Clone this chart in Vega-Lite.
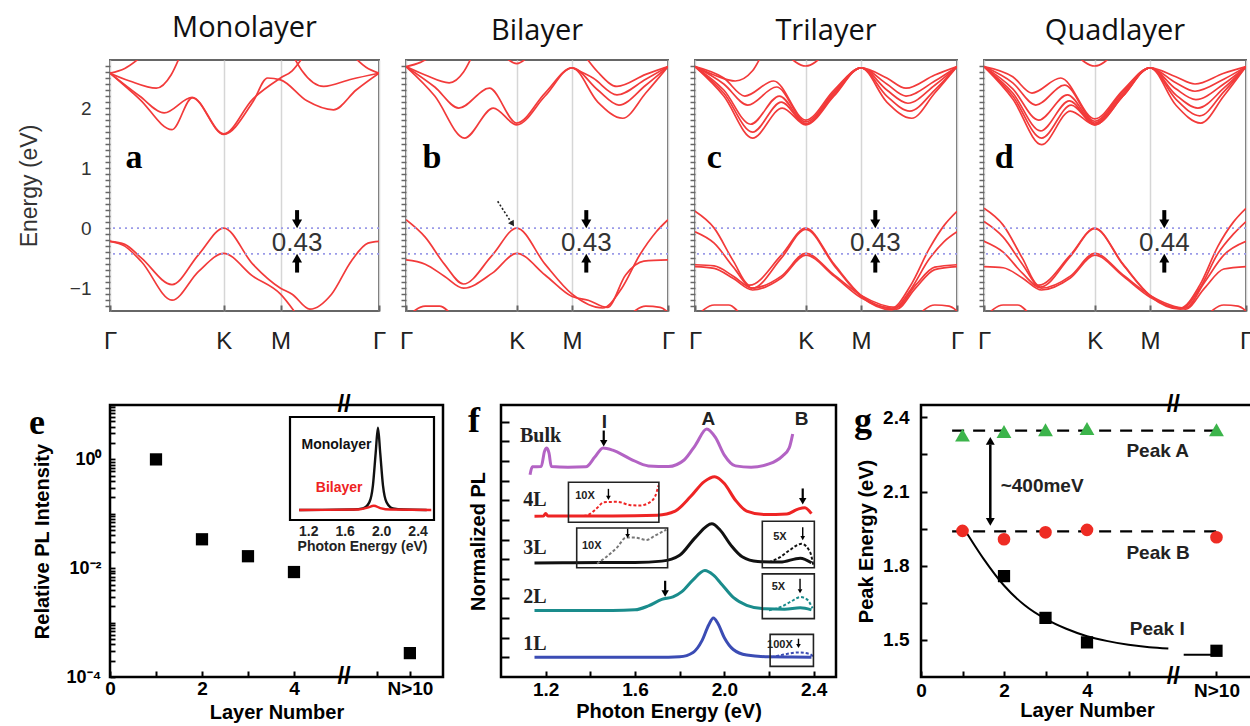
{
"$schema": "https://vega.github.io/schema/vega-lite/v6.json",
"padding": {"left": 17, "top": 13, "right": 0, "bottom": 0},
"background": "white",
"config": {
  "font": "Liberation Sans",
  "title": {"font": "Open Sans", "fontSize": 29, "fontWeight": "normal", "color": "#111", "offset": 14},
  "axis": {"domain": false, "grid": false, "labelOverlap": false, "tickCount": 100, "labelFont": "Liberation Sans", "titleFont": "Liberation Sans"}
},
"datasets": {
"bands": [
{"p":"a","b":"v1","x":0,"e":-0.22},{"p":"a","b":"v1","x":0.15,"e":-0.27},{"p":"a","b":"v1","x":0.32,"e":-0.5},{"p":"a","b":"v1","x":0.63,"e":-0.94},{"p":"a","b":"v1","x":0.9,"e":-0.44},{"p":"a","b":"v1","x":1.155,"e":0},{"p":"a","b":"v1","x":1.45,"e":-0.6},{"p":"a","b":"v1","x":1.732,"e":-1.0},{"p":"a","b":"v1","x":1.85,"e":-1.1},{"p":"a","b":"v1","x":2.03,"e":-1.35},{"p":"a","b":"v1","x":2.25,"e":-1.1},{"p":"a","b":"v1","x":2.45,"e":-0.55},{"p":"a","b":"v1","x":2.62,"e":-0.25},{"p":"a","b":"v1","x":2.732,"e":-0.22},
{"p":"a","b":"v2","x":0,"e":-0.22},{"p":"a","b":"v2","x":0.15,"e":-0.3},{"p":"a","b":"v2","x":0.32,"e":-0.56},{"p":"a","b":"v2","x":0.63,"e":-1.2},{"p":"a","b":"v2","x":0.9,"e":-0.72},{"p":"a","b":"v2","x":1.155,"e":-0.42},{"p":"a","b":"v2","x":1.45,"e":-0.8},{"p":"a","b":"v2","x":1.732,"e":-1.1},{"p":"a","b":"v2","x":1.9,"e":-1.45},
{"p":"a","b":"c1","x":0,"e":2.58},{"p":"a","b":"c1","x":0.3,"e":2.15},{"p":"a","b":"c1","x":0.63,"e":1.64},{"p":"a","b":"c1","x":0.835,"e":2.17},{"p":"a","b":"c1","x":1.155,"e":1.56},{"p":"a","b":"c1","x":1.45,"e":2.1},{"p":"a","b":"c1","x":1.6,"e":2.5},{"p":"a","b":"c1","x":1.732,"e":2.47},{"p":"a","b":"c1","x":2.0,"e":2.12},{"p":"a","b":"c1","x":2.27,"e":1.97},{"p":"a","b":"c1","x":2.5,"e":2.3},{"p":"a","b":"c1","x":2.732,"e":2.58},
{"p":"a","b":"c2","x":0,"e":2.58},{"p":"a","b":"c2","x":0.3,"e":2.2},{"p":"a","b":"c2","x":0.55,"e":1.92},{"p":"a","b":"c2","x":0.835,"e":2.18},{"p":"a","b":"c2","x":1.155,"e":1.57},{"p":"a","b":"c2","x":1.45,"e":2.15},{"p":"a","b":"c2","x":1.732,"e":2.5},{"p":"a","b":"c2","x":1.85,"e":2.62},{"p":"a","b":"c2","x":1.98,"e":2.9},
{"p":"a","b":"c3","x":1.85,"e":2.9},{"p":"a","b":"c3","x":1.95,"e":2.62},{"p":"a","b":"c3","x":2.17,"e":2.36},{"p":"a","b":"c3","x":2.45,"e":2.48},{"p":"a","b":"c3","x":2.732,"e":2.58},
{"p":"a","b":"c4","x":0,"e":2.58},{"p":"a","b":"c4","x":0.2,"e":2.45},{"p":"a","b":"c4","x":0.47,"e":2.33},{"p":"a","b":"c4","x":0.62,"e":2.55},{"p":"a","b":"c4","x":0.72,"e":2.9},
{"p":"a","b":"c5","x":0,"e":2.58},{"p":"a","b":"c5","x":0.15,"e":2.66},{"p":"a","b":"c5","x":0.35,"e":2.9},
{"p":"a","b":"c6","x":2.45,"e":2.9},{"p":"a","b":"c6","x":2.6,"e":2.68},{"p":"a","b":"c6","x":2.732,"e":2.58},

{"p":"b","b":"v1","x":0,"e":0.14},{"p":"b","b":"v1","x":0.2,"e":-0.15},{"p":"b","b":"v1","x":0.4,"e":-0.6},{"p":"b","b":"v1","x":0.6,"e":-0.93},{"p":"b","b":"v1","x":0.9,"e":-0.45},{"p":"b","b":"v1","x":1.155,"e":0},{"p":"b","b":"v1","x":1.45,"e":-0.6},{"p":"b","b":"v1","x":1.732,"e":-1.1},{"p":"b","b":"v1","x":2.05,"e":-1.33},{"p":"b","b":"v1","x":2.25,"e":-1.0},{"p":"b","b":"v1","x":2.44,"e":-0.44},{"p":"b","b":"v1","x":2.61,"e":-0.06},{"p":"b","b":"v1","x":2.732,"e":0.14},
{"p":"b","b":"v2","x":0,"e":-0.53},{"p":"b","b":"v2","x":0.2,"e":-0.6},{"p":"b","b":"v2","x":0.4,"e":-0.8},{"p":"b","b":"v2","x":0.6,"e":-1.0},{"p":"b","b":"v2","x":0.9,"e":-0.75},{"p":"b","b":"v2","x":1.155,"e":-0.42},{"p":"b","b":"v2","x":1.45,"e":-0.78},{"p":"b","b":"v2","x":1.732,"e":-1.14},{"p":"b","b":"v2","x":1.9,"e":-1.2},{"p":"b","b":"v2","x":2.1,"e":-1.32},{"p":"b","b":"v2","x":2.29,"e":-0.78},{"p":"b","b":"v2","x":2.48,"e":-0.55},{"p":"b","b":"v2","x":2.732,"e":-0.53},
{"p":"b","b":"v3","x":0,"e":-1.5},{"p":"b","b":"v3","x":0.2,"e":-1.3},{"p":"b","b":"v3","x":0.35,"e":-1.3},{"p":"b","b":"v3","x":0.5,"e":-1.5},
{"p":"b","b":"v4","x":2.3,"e":-1.5},{"p":"b","b":"v4","x":2.5,"e":-1.3},{"p":"b","b":"v4","x":2.65,"e":-1.32},{"p":"b","b":"v4","x":2.732,"e":-1.4},
{"p":"b","b":"c1","x":0,"e":2.69},{"p":"b","b":"c1","x":0.3,"e":2.2},{"p":"b","b":"c1","x":0.61,"e":1.5},{"p":"b","b":"c1","x":0.91,"e":2.0},{"p":"b","b":"c1","x":1.155,"e":1.72},{"p":"b","b":"c1","x":1.45,"e":2.2},{"p":"b","b":"c1","x":1.732,"e":2.67},{"p":"b","b":"c1","x":2.0,"e":2.1},{"p":"b","b":"c1","x":2.26,"e":1.83},{"p":"b","b":"c1","x":2.5,"e":2.25},{"p":"b","b":"c1","x":2.732,"e":2.69},
{"p":"b","b":"c2","x":0,"e":2.69},{"p":"b","b":"c2","x":0.3,"e":2.35},{"p":"b","b":"c2","x":0.55,"e":2.0},{"p":"b","b":"c2","x":0.87,"e":2.33},{"p":"b","b":"c2","x":1.155,"e":1.75},{"p":"b","b":"c2","x":1.45,"e":2.25},{"p":"b","b":"c2","x":1.732,"e":2.67},{"p":"b","b":"c2","x":2.0,"e":2.3},{"p":"b","b":"c2","x":2.22,"e":2.05},{"p":"b","b":"c2","x":2.5,"e":2.38},{"p":"b","b":"c2","x":2.732,"e":2.69},
{"p":"b","b":"c3","x":1.732,"e":2.67},{"p":"b","b":"c3","x":1.95,"e":2.5},{"p":"b","b":"c3","x":2.2,"e":2.22},{"p":"b","b":"c3","x":2.5,"e":2.48},{"p":"b","b":"c3","x":2.732,"e":2.69},
{"p":"b","b":"c4","x":1.85,"e":2.9},{"p":"b","b":"c4","x":2.0,"e":2.6},{"p":"b","b":"c4","x":2.2,"e":2.36},{"p":"b","b":"c4","x":2.5,"e":2.56},{"p":"b","b":"c4","x":2.732,"e":2.69},
{"p":"b","b":"c5","x":0,"e":2.69},{"p":"b","b":"c5","x":0.2,"e":2.55},{"p":"b","b":"c5","x":0.45,"e":2.42},{"p":"b","b":"c5","x":0.6,"e":2.6},{"p":"b","b":"c5","x":0.7,"e":2.9},
{"p":"b","b":"c6","x":0,"e":2.69},{"p":"b","b":"c6","x":0.15,"e":2.76},{"p":"b","b":"c6","x":0.3,"e":2.9},
{"p":"b","b":"c7","x":1.0,"e":2.9},{"p":"b","b":"c7","x":1.155,"e":2.74},{"p":"b","b":"c7","x":1.3,"e":2.9},

{"p":"c","b":"v1","x":0,"e":0.28},{"p":"c","b":"v1","x":0.2,"e":0.0},{"p":"c","b":"v1","x":0.4,"e":-0.55},{"p":"c","b":"v1","x":0.57,"e":-0.95},{"p":"c","b":"v1","x":0.9,"e":-0.45},{"p":"c","b":"v1","x":1.155,"e":0},{"p":"c","b":"v1","x":1.45,"e":-0.6},{"p":"c","b":"v1","x":1.732,"e":-1.12},{"p":"c","b":"v1","x":2.05,"e":-1.33},{"p":"c","b":"v1","x":2.25,"e":-0.95},{"p":"c","b":"v1","x":2.44,"e":-0.35},{"p":"c","b":"v1","x":2.6,"e":0.05},{"p":"c","b":"v1","x":2.732,"e":0.28},
{"p":"c","b":"v2","x":0,"e":-0.06},{"p":"c","b":"v2","x":0.2,"e":-0.25},{"p":"c","b":"v2","x":0.4,"e":-0.65},{"p":"c","b":"v2","x":0.6,"e":-1.0},{"p":"c","b":"v2","x":0.9,"e":-0.5},{"p":"c","b":"v2","x":1.155,"e":-0.02},{"p":"c","b":"v2","x":1.45,"e":-0.62},{"p":"c","b":"v2","x":1.732,"e":-1.14},{"p":"c","b":"v2","x":2.05,"e":-1.36},{"p":"c","b":"v2","x":2.25,"e":-1.02},{"p":"c","b":"v2","x":2.44,"e":-0.52},{"p":"c","b":"v2","x":2.6,"e":-0.22},{"p":"c","b":"v2","x":2.732,"e":-0.06},
{"p":"c","b":"v3","x":0,"e":-0.61},{"p":"c","b":"v3","x":0.2,"e":-0.63},{"p":"c","b":"v3","x":0.4,"e":-0.8},{"p":"c","b":"v3","x":0.6,"e":-1.0},{"p":"c","b":"v3","x":0.9,"e":-0.8},{"p":"c","b":"v3","x":1.155,"e":-0.42},{"p":"c","b":"v3","x":1.45,"e":-0.78},{"p":"c","b":"v3","x":1.732,"e":-1.12},{"p":"c","b":"v3","x":2.1,"e":-1.32},{"p":"c","b":"v3","x":2.3,"e":-0.95},{"p":"c","b":"v3","x":2.5,"e":-0.65},{"p":"c","b":"v3","x":2.732,"e":-0.61},
{"p":"c","b":"v4","x":0,"e":-0.64},{"p":"c","b":"v4","x":0.2,"e":-0.67},{"p":"c","b":"v4","x":0.4,"e":-0.84},{"p":"c","b":"v4","x":0.6,"e":-1.03},{"p":"c","b":"v4","x":0.9,"e":-0.83},{"p":"c","b":"v4","x":1.155,"e":-0.45},{"p":"c","b":"v4","x":1.45,"e":-0.8},{"p":"c","b":"v4","x":1.732,"e":-1.16},{"p":"c","b":"v4","x":2.1,"e":-1.35},{"p":"c","b":"v4","x":2.3,"e":-1.0},{"p":"c","b":"v4","x":2.5,"e":-0.69},{"p":"c","b":"v4","x":2.732,"e":-0.64},
{"p":"c","b":"v5","x":0,"e":-1.5},{"p":"c","b":"v5","x":0.2,"e":-1.28},{"p":"c","b":"v5","x":0.35,"e":-1.28},{"p":"c","b":"v5","x":0.5,"e":-1.5},
{"p":"c","b":"v6","x":2.3,"e":-1.5},{"p":"c","b":"v6","x":2.5,"e":-1.28},{"p":"c","b":"v6","x":2.65,"e":-1.3},{"p":"c","b":"v6","x":2.732,"e":-1.38},
{"p":"c","b":"c1","x":0,"e":2.69},{"p":"c","b":"c1","x":0.3,"e":2.2},{"p":"c","b":"c1","x":0.6,"e":1.5},{"p":"c","b":"c1","x":0.91,"e":2.0},{"p":"c","b":"c1","x":1.155,"e":1.72},{"p":"c","b":"c1","x":1.45,"e":2.2},{"p":"c","b":"c1","x":1.732,"e":2.67},{"p":"c","b":"c1","x":2.0,"e":2.1},{"p":"c","b":"c1","x":2.26,"e":1.83},{"p":"c","b":"c1","x":2.5,"e":2.25},{"p":"c","b":"c1","x":2.732,"e":2.69},
{"p":"c","b":"c2","x":0,"e":2.69},{"p":"c","b":"c2","x":0.3,"e":2.25},{"p":"c","b":"c2","x":0.6,"e":1.6},{"p":"c","b":"c2","x":0.9,"e":2.1},{"p":"c","b":"c2","x":1.155,"e":1.73},{"p":"c","b":"c2","x":1.45,"e":2.22},{"p":"c","b":"c2","x":1.732,"e":2.67},{"p":"c","b":"c2","x":2.0,"e":2.2},{"p":"c","b":"c2","x":2.24,"e":1.95},{"p":"c","b":"c2","x":2.5,"e":2.3},{"p":"c","b":"c2","x":2.732,"e":2.69},
{"p":"c","b":"c3","x":0,"e":2.69},{"p":"c","b":"c3","x":0.3,"e":2.3},{"p":"c","b":"c3","x":0.58,"e":1.73},{"p":"c","b":"c3","x":0.88,"e":2.2},{"p":"c","b":"c3","x":1.155,"e":1.74},{"p":"c","b":"c3","x":1.45,"e":2.25},{"p":"c","b":"c3","x":1.732,"e":2.67},{"p":"c","b":"c3","x":2.0,"e":2.3},{"p":"c","b":"c3","x":2.22,"e":2.08},{"p":"c","b":"c3","x":2.5,"e":2.38},{"p":"c","b":"c3","x":2.732,"e":2.69},
{"p":"c","b":"c4","x":0,"e":2.69},{"p":"c","b":"c4","x":0.3,"e":2.4},{"p":"c","b":"c4","x":0.55,"e":2.05},{"p":"c","b":"c4","x":0.85,"e":2.35},{"p":"c","b":"c4","x":1.155,"e":1.77},{"p":"c","b":"c4","x":1.45,"e":2.27},{"p":"c","b":"c4","x":1.732,"e":2.67},{"p":"c","b":"c4","x":2.0,"e":2.4},{"p":"c","b":"c4","x":2.2,"e":2.2},{"p":"c","b":"c4","x":2.5,"e":2.45},{"p":"c","b":"c4","x":2.732,"e":2.69},
{"p":"c","b":"c5","x":0,"e":2.69},{"p":"c","b":"c5","x":0.3,"e":2.5},{"p":"c","b":"c5","x":0.52,"e":2.2},{"p":"c","b":"c5","x":0.82,"e":2.45},{"p":"c","b":"c5","x":1.155,"e":1.8},{"p":"c","b":"c5","x":1.45,"e":2.3},{"p":"c","b":"c5","x":1.732,"e":2.67},{"p":"c","b":"c5","x":2.0,"e":2.5},{"p":"c","b":"c5","x":2.2,"e":2.33},{"p":"c","b":"c5","x":2.5,"e":2.55},{"p":"c","b":"c5","x":2.732,"e":2.69},
{"p":"c","b":"c6","x":0,"e":2.69},{"p":"c","b":"c6","x":0.2,"e":2.55},{"p":"c","b":"c6","x":0.42,"e":2.45},{"p":"c","b":"c6","x":0.6,"e":2.62},{"p":"c","b":"c6","x":0.7,"e":2.9},
{"p":"c","b":"c7","x":0.95,"e":2.9},{"p":"c","b":"c7","x":1.155,"e":2.7},{"p":"c","b":"c7","x":1.35,"e":2.9},

{"p":"d","b":"v1","x":0,"e":0.33},{"p":"d","b":"v1","x":0.2,"e":0.05},{"p":"d","b":"v1","x":0.4,"e":-0.5},{"p":"d","b":"v1","x":0.57,"e":-0.95},{"p":"d","b":"v1","x":0.9,"e":-0.45},{"p":"d","b":"v1","x":1.155,"e":0},{"p":"d","b":"v1","x":1.45,"e":-0.6},{"p":"d","b":"v1","x":1.732,"e":-1.12},{"p":"d","b":"v1","x":2.05,"e":-1.33},{"p":"d","b":"v1","x":2.25,"e":-0.95},{"p":"d","b":"v1","x":2.44,"e":-0.3},{"p":"d","b":"v1","x":2.6,"e":0.1},{"p":"d","b":"v1","x":2.732,"e":0.33},
{"p":"d","b":"v2","x":0,"e":0.11},{"p":"d","b":"v2","x":0.2,"e":-0.15},{"p":"d","b":"v2","x":0.4,"e":-0.6},{"p":"d","b":"v2","x":0.59,"e":-0.98},{"p":"d","b":"v2","x":0.9,"e":-0.47},{"p":"d","b":"v2","x":1.155,"e":-0.01},{"p":"d","b":"v2","x":1.45,"e":-0.61},{"p":"d","b":"v2","x":1.732,"e":-1.13},{"p":"d","b":"v2","x":2.05,"e":-1.35},{"p":"d","b":"v2","x":2.25,"e":-1.0},{"p":"d","b":"v2","x":2.44,"e":-0.42},{"p":"d","b":"v2","x":2.6,"e":-0.1},{"p":"d","b":"v2","x":2.732,"e":0.11},
{"p":"d","b":"v3","x":0,"e":-0.22},{"p":"d","b":"v3","x":0.2,"e":-0.4},{"p":"d","b":"v3","x":0.4,"e":-0.75},{"p":"d","b":"v3","x":0.6,"e":-1.0},{"p":"d","b":"v3","x":0.9,"e":-0.8},{"p":"d","b":"v3","x":1.155,"e":-0.42},{"p":"d","b":"v3","x":1.45,"e":-0.78},{"p":"d","b":"v3","x":1.732,"e":-1.12},{"p":"d","b":"v3","x":2.1,"e":-1.33},{"p":"d","b":"v3","x":2.3,"e":-0.9},{"p":"d","b":"v3","x":2.5,"e":-0.45},{"p":"d","b":"v3","x":2.732,"e":-0.22},
{"p":"d","b":"v4","x":0,"e":-0.64},{"p":"d","b":"v4","x":0.2,"e":-0.66},{"p":"d","b":"v4","x":0.4,"e":-0.83},{"p":"d","b":"v4","x":0.6,"e":-1.03},{"p":"d","b":"v4","x":0.9,"e":-0.83},{"p":"d","b":"v4","x":1.155,"e":-0.45},{"p":"d","b":"v4","x":1.45,"e":-0.8},{"p":"d","b":"v4","x":1.732,"e":-1.15},{"p":"d","b":"v4","x":2.1,"e":-1.35},{"p":"d","b":"v4","x":2.3,"e":-1.0},{"p":"d","b":"v4","x":2.5,"e":-0.68},{"p":"d","b":"v4","x":2.732,"e":-0.64},
{"p":"d","b":"v5","x":0,"e":-1.5},{"p":"d","b":"v5","x":0.2,"e":-1.28},{"p":"d","b":"v5","x":0.35,"e":-1.28},{"p":"d","b":"v5","x":0.5,"e":-1.5},
{"p":"d","b":"v6","x":2.3,"e":-1.5},{"p":"d","b":"v6","x":2.5,"e":-1.28},{"p":"d","b":"v6","x":2.65,"e":-1.3},{"p":"d","b":"v6","x":2.732,"e":-1.38},
{"p":"d","b":"c1","x":0,"e":2.69},{"p":"d","b":"c1","x":0.3,"e":2.15},{"p":"d","b":"c1","x":0.6,"e":1.39},{"p":"d","b":"c1","x":0.9,"e":1.95},{"p":"d","b":"c1","x":1.155,"e":1.72},{"p":"d","b":"c1","x":1.45,"e":2.2},{"p":"d","b":"c1","x":1.732,"e":2.67},{"p":"d","b":"c1","x":2.0,"e":2.05},{"p":"d","b":"c1","x":2.26,"e":1.75},{"p":"d","b":"c1","x":2.5,"e":2.2},{"p":"d","b":"c1","x":2.732,"e":2.69},
{"p":"d","b":"c2","x":0,"e":2.69},{"p":"d","b":"c2","x":0.3,"e":2.2},{"p":"d","b":"c2","x":0.6,"e":1.5},{"p":"d","b":"c2","x":0.91,"e":2.05},{"p":"d","b":"c2","x":1.155,"e":1.72},{"p":"d","b":"c2","x":1.45,"e":2.2},{"p":"d","b":"c2","x":1.732,"e":2.67},{"p":"d","b":"c2","x":2.0,"e":2.15},{"p":"d","b":"c2","x":2.25,"e":1.87},{"p":"d","b":"c2","x":2.5,"e":2.27},{"p":"d","b":"c2","x":2.732,"e":2.69},
{"p":"d","b":"c3","x":0,"e":2.69},{"p":"d","b":"c3","x":0.3,"e":2.25},{"p":"d","b":"c3","x":0.59,"e":1.62},{"p":"d","b":"c3","x":0.89,"e":2.12},{"p":"d","b":"c3","x":1.155,"e":1.73},{"p":"d","b":"c3","x":1.45,"e":2.22},{"p":"d","b":"c3","x":1.732,"e":2.67},{"p":"d","b":"c3","x":2.0,"e":2.22},{"p":"d","b":"c3","x":2.23,"e":2.0},{"p":"d","b":"c3","x":2.5,"e":2.33},{"p":"d","b":"c3","x":2.732,"e":2.69},
{"p":"d","b":"c4","x":0,"e":2.69},{"p":"d","b":"c4","x":0.3,"e":2.32},{"p":"d","b":"c4","x":0.57,"e":1.8},{"p":"d","b":"c4","x":0.87,"e":2.22},{"p":"d","b":"c4","x":1.155,"e":1.75},{"p":"d","b":"c4","x":1.45,"e":2.25},{"p":"d","b":"c4","x":1.732,"e":2.67},{"p":"d","b":"c4","x":2.0,"e":2.32},{"p":"d","b":"c4","x":2.21,"e":2.14},{"p":"d","b":"c4","x":2.5,"e":2.4},{"p":"d","b":"c4","x":2.732,"e":2.69},
{"p":"d","b":"c5","x":0,"e":2.69},{"p":"d","b":"c5","x":0.3,"e":2.42},{"p":"d","b":"c5","x":0.54,"e":2.05},{"p":"d","b":"c5","x":0.84,"e":2.38},{"p":"d","b":"c5","x":1.155,"e":1.78},{"p":"d","b":"c5","x":1.45,"e":2.28},{"p":"d","b":"c5","x":1.732,"e":2.67},{"p":"d","b":"c5","x":2.0,"e":2.42},{"p":"d","b":"c5","x":2.2,"e":2.28},{"p":"d","b":"c5","x":2.5,"e":2.48},{"p":"d","b":"c5","x":2.732,"e":2.69},
{"p":"d","b":"c6","x":0,"e":2.69},{"p":"d","b":"c6","x":0.3,"e":2.52},{"p":"d","b":"c6","x":0.5,"e":2.25},{"p":"d","b":"c6","x":0.8,"e":2.5},{"p":"d","b":"c6","x":1.155,"e":1.82},{"p":"d","b":"c6","x":1.45,"e":2.3},{"p":"d","b":"c6","x":1.732,"e":2.67},{"p":"d","b":"c6","x":2.0,"e":2.52},{"p":"d","b":"c6","x":2.2,"e":2.4},{"p":"d","b":"c6","x":2.5,"e":2.58},{"p":"d","b":"c6","x":2.732,"e":2.69},
{"p":"d","b":"c7","x":0.95,"e":2.9},{"p":"d","b":"c7","x":1.155,"e":2.7},{"p":"d","b":"c7","x":1.35,"e":2.9}
]
},
"spacing": 37,
"bounds": "full",
"resolve": {"scale": {"color": "independent", "shape": "independent", "size": "independent", "strokeWidth": "independent"}},
"vconcat": [
{
"hconcat": [
{
 "width": 269, "height": 251, "title": "Monolayer",
 "view": {"stroke": "#666", "strokeWidth": 2},
 "layer": [
  {"data": {"name": "bands"}, "transform": [{"filter": "datum.p === 'a'"}],
   "mark": {"type": "line", "color": "#f23a3a", "strokeWidth": 1.7, "interpolate": "monotone", "clip": true},
   "encoding": {
    "x": {"field": "x", "type": "quantitative", "scale": {"domain": [0, 2.732], "nice": false, "zero": false},
          "axis": {"values": [0, 1.155, 1.732, 2.732], "labelExpr": "datum.value < 0.5 ? 'Γ' : datum.value < 1.5 ? 'K' : datum.value < 2 ? 'M' : 'Γ'", "labelFlush": false, "labelFontSize": 24, "labelColor": "#222", "tickSize": -6, "tickWidth": 2, "tickColor": "#666", "grid": true, "gridColor": "#d6d6d6", "gridWidth": 1.5, "labelPadding": 24, "title": null}},
    "y": {"field": "e", "type": "quantitative", "scale": {"domain": [-1.38, 2.8], "nice": false, "zero": false},
          "axis": {"values": [-1.3, -1.2, -1.1, -1, -0.9, -0.8, -0.7, -0.6, -0.5, -0.4, -0.3, -0.2, -0.1, 0, 0.1, 0.2, 0.3, 0.4, 0.5, 0.6, 0.7, 0.8, 0.9, 1, 1.1, 1.2, 1.3, 1.4, 1.5, 1.6, 1.7, 1.8, 1.9, 2, 2.1, 2.2, 2.3, 2.4, 2.5, 2.6, 2.7], "tickCount": 100, "labelExpr": "abs(datum.value - round(datum.value)) < 0.01 ? format(round(datum.value), 'd') : ''", "labelFontSize": 19, "labelColor": "#333", "tickColor": "#666", "tickSize": 5, "tickWidth": 1.5, "labelPadding": 14, "title": "Energy (eV)", "titleFontSize": 23, "titleFontWeight": "normal", "titleColor": "#333", "titlePadding": 28}},
    "detail": {"field": "b", "type": "nominal"}}},
  {"data": {"values": [{"e": 0}, {"e": -0.43}]}, "mark": {"type": "rule", "color": "#9a9ae8", "strokeDash": [2, 4], "strokeWidth": 1.8}, "encoding": {"y": {"field": "e", "type": "quantitative"}}},
  {"data": {"values": [{"x": 1.9, "y": 0.3, "y2": 0.1}, {"x": 1.9, "y": -0.74, "y2": -0.54}]}, "mark": {"type": "rule", "color": "black", "strokeWidth": 4}, "encoding": {"x": {"field": "x", "type": "quantitative"}, "y": {"field": "y", "type": "quantitative"}, "y2": {"field": "y2"}}},
  {"data": {"values": [{"x": 1.9, "y": 0.07}]}, "mark": {"type": "point", "shape": "triangle-down", "filled": true, "color": "black", "size": 100, "opacity": 1}, "encoding": {"x": {"field": "x", "type": "quantitative"}, "y": {"field": "y", "type": "quantitative"}}},
  {"data": {"values": [{"x": 1.9, "y": -0.5}]}, "mark": {"type": "point", "shape": "triangle-up", "filled": true, "color": "black", "size": 100, "opacity": 1}, "encoding": {"x": {"field": "x", "type": "quantitative"}, "y": {"field": "y", "type": "quantitative"}}},
  {"data": {"values": [{"x": 1.9, "y": -0.24, "t": "0.43"}]}, "mark": {"type": "text", "fontSize": 26, "color": "#333", "font": "Liberation Sans"}, "encoding": {"x": {"field": "x", "type": "quantitative"}, "y": {"field": "y", "type": "quantitative"}, "text": {"field": "t"}}},
  {"data": {"values": [{"x": 0.244, "y": 1.0, "t": "a"}]}, "mark": {"type": "text", "fontSize": 34, "font": "Liberation Serif", "fontWeight": "bold", "baseline": "alphabetic"}, "encoding": {"x": {"field": "x", "type": "quantitative"}, "y": {"field": "y", "type": "quantitative"}, "text": {"field": "t"}}}
 ]
},
{
 "width": 262, "height": 251, "title": "Bilayer",
 "view": {"stroke": "#666", "strokeWidth": 2},
 "layer": [
  {"data": {"name": "bands"}, "transform": [{"filter": "datum.p === 'b'"}],
   "mark": {"type": "line", "color": "#f23a3a", "strokeWidth": 1.7, "interpolate": "monotone", "clip": true},
   "encoding": {
    "x": {"field": "x", "type": "quantitative", "scale": {"domain": [0, 2.732], "nice": false, "zero": false},
          "axis": {"values": [0, 1.155, 1.732, 2.732], "labelExpr": "datum.value < 0.5 ? 'Γ' : datum.value < 1.5 ? 'K' : datum.value < 2 ? 'M' : 'Γ'", "labelFlush": false, "labelFontSize": 24, "labelColor": "#222", "tickSize": -6, "tickWidth": 2, "tickColor": "#666", "grid": true, "gridColor": "#d6d6d6", "gridWidth": 1.5, "labelPadding": 24, "title": null}},
    "y": {"field": "e", "type": "quantitative", "scale": {"domain": [-1.38, 2.8], "nice": false, "zero": false},
          "axis": {"values": [-1.3, -1.2, -1.1, -1, -0.9, -0.8, -0.7, -0.6, -0.5, -0.4, -0.3, -0.2, -0.1, 0, 0.1, 0.2, 0.3, 0.4, 0.5, 0.6, 0.7, 0.8, 0.9, 1, 1.1, 1.2, 1.3, 1.4, 1.5, 1.6, 1.7, 1.8, 1.9, 2, 2.1, 2.2, 2.3, 2.4, 2.5, 2.6, 2.7], "tickCount": 100, "labels": false, "tickColor": "#666", "tickSize": 5, "tickWidth": 1.5, "title": null}},
    "detail": {"field": "b", "type": "nominal"}}},
  {"data": {"values": [{"e": 0}, {"e": -0.43}]}, "mark": {"type": "rule", "color": "#9a9ae8", "strokeDash": [2, 4], "strokeWidth": 1.8}, "encoding": {"y": {"field": "e", "type": "quantitative"}}},
  {"data": {"values": [{"x": 1.88, "y": 0.3, "y2": 0.1}, {"x": 1.88, "y": -0.74, "y2": -0.54}]}, "mark": {"type": "rule", "color": "black", "strokeWidth": 4}, "encoding": {"x": {"field": "x", "type": "quantitative"}, "y": {"field": "y", "type": "quantitative"}, "y2": {"field": "y2"}}},
  {"data": {"values": [{"x": 1.88, "y": 0.07}]}, "mark": {"type": "point", "shape": "triangle-down", "filled": true, "color": "black", "size": 100, "opacity": 1}, "encoding": {"x": {"field": "x", "type": "quantitative"}, "y": {"field": "y", "type": "quantitative"}}},
  {"data": {"values": [{"x": 1.88, "y": -0.5}]}, "mark": {"type": "point", "shape": "triangle-up", "filled": true, "color": "black", "size": 100, "opacity": 1}, "encoding": {"x": {"field": "x", "type": "quantitative"}, "y": {"field": "y", "type": "quantitative"}}},
  {"data": {"values": [{"x": 0.956, "y": 0.447, "x2": 1.1, "y2": 0.09}]}, "mark": {"type": "rule", "color": "#222", "strokeDash": [2, 2], "strokeWidth": 1.6}, "encoding": {"x": {"field": "x", "type": "quantitative"}, "y": {"field": "y", "type": "quantitative"}, "x2": {"field": "x2"}, "y2": {"field": "y2"}}},
  {"data": {"values": [{"x": 1.11, "y": 0.07}]}, "mark": {"type": "point", "shape": "triangle-down", "angle": 327, "filled": true, "color": "#222", "size": 45, "opacity": 1}, "encoding": {"x": {"field": "x", "type": "quantitative"}, "y": {"field": "y", "type": "quantitative"}}},
  {"data": {"values": [{"x": 1.88, "y": -0.24, "t": "0.43"}]}, "mark": {"type": "text", "fontSize": 26, "color": "#333", "font": "Liberation Sans"}, "encoding": {"x": {"field": "x", "type": "quantitative"}, "y": {"field": "y", "type": "quantitative"}, "text": {"field": "t"}}},
  {"data": {"values": [{"x": 0.27, "y": 1.0, "t": "b"}]}, "mark": {"type": "text", "fontSize": 34, "font": "Liberation Serif", "fontWeight": "bold", "baseline": "alphabetic"}, "encoding": {"x": {"field": "x", "type": "quantitative"}, "y": {"field": "y", "type": "quantitative"}, "text": {"field": "t"}}}
 ]
},
{
 "width": 262, "height": 251, "title": "Trilayer",
 "view": {"stroke": "#666", "strokeWidth": 2},
 "layer": [
  {"data": {"name": "bands"}, "transform": [{"filter": "datum.p === 'c'"}],
   "mark": {"type": "line", "color": "#f23a3a", "strokeWidth": 1.7, "interpolate": "monotone", "clip": true},
   "encoding": {
    "x": {"field": "x", "type": "quantitative", "scale": {"domain": [0, 2.732], "nice": false, "zero": false},
          "axis": {"values": [0, 1.155, 1.732, 2.732], "labelExpr": "datum.value < 0.5 ? 'Γ' : datum.value < 1.5 ? 'K' : datum.value < 2 ? 'M' : 'Γ'", "labelFlush": false, "labelFontSize": 24, "labelColor": "#222", "tickSize": -6, "tickWidth": 2, "tickColor": "#666", "grid": true, "gridColor": "#d6d6d6", "gridWidth": 1.5, "labelPadding": 24, "title": null}},
    "y": {"field": "e", "type": "quantitative", "scale": {"domain": [-1.38, 2.8], "nice": false, "zero": false},
          "axis": {"values": [-1.3, -1.2, -1.1, -1, -0.9, -0.8, -0.7, -0.6, -0.5, -0.4, -0.3, -0.2, -0.1, 0, 0.1, 0.2, 0.3, 0.4, 0.5, 0.6, 0.7, 0.8, 0.9, 1, 1.1, 1.2, 1.3, 1.4, 1.5, 1.6, 1.7, 1.8, 1.9, 2, 2.1, 2.2, 2.3, 2.4, 2.5, 2.6, 2.7], "tickCount": 100, "labels": false, "tickColor": "#666", "tickSize": 5, "tickWidth": 1.5, "title": null}},
    "detail": {"field": "b", "type": "nominal"}}},
  {"data": {"values": [{"e": 0}, {"e": -0.43}]}, "mark": {"type": "rule", "color": "#9a9ae8", "strokeDash": [2, 4], "strokeWidth": 1.8}, "encoding": {"y": {"field": "e", "type": "quantitative"}}},
  {"data": {"values": [{"x": 1.88, "y": 0.3, "y2": 0.1}, {"x": 1.88, "y": -0.74, "y2": -0.54}]}, "mark": {"type": "rule", "color": "black", "strokeWidth": 4}, "encoding": {"x": {"field": "x", "type": "quantitative"}, "y": {"field": "y", "type": "quantitative"}, "y2": {"field": "y2"}}},
  {"data": {"values": [{"x": 1.88, "y": 0.07}]}, "mark": {"type": "point", "shape": "triangle-down", "filled": true, "color": "black", "size": 100, "opacity": 1}, "encoding": {"x": {"field": "x", "type": "quantitative"}, "y": {"field": "y", "type": "quantitative"}}},
  {"data": {"values": [{"x": 1.88, "y": -0.5}]}, "mark": {"type": "point", "shape": "triangle-up", "filled": true, "color": "black", "size": 100, "opacity": 1}, "encoding": {"x": {"field": "x", "type": "quantitative"}, "y": {"field": "y", "type": "quantitative"}}},
  {"data": {"values": [{"x": 1.88, "y": -0.24, "t": "0.43"}]}, "mark": {"type": "text", "fontSize": 26, "color": "#333", "font": "Liberation Sans"}, "encoding": {"x": {"field": "x", "type": "quantitative"}, "y": {"field": "y", "type": "quantitative"}, "text": {"field": "t"}}},
  {"data": {"values": [{"x": 0.2, "y": 1.0, "t": "c"}]}, "mark": {"type": "text", "fontSize": 34, "font": "Liberation Serif", "fontWeight": "bold", "baseline": "alphabetic"}, "encoding": {"x": {"field": "x", "type": "quantitative"}, "y": {"field": "y", "type": "quantitative"}, "text": {"field": "t"}}}
 ]
},
{
 "width": 262, "height": 251, "title": "Quadlayer",
 "view": {"stroke": "#666", "strokeWidth": 2},
 "layer": [
  {"data": {"name": "bands"}, "transform": [{"filter": "datum.p === 'd'"}],
   "mark": {"type": "line", "color": "#f23a3a", "strokeWidth": 1.7, "interpolate": "monotone", "clip": true},
   "encoding": {
    "x": {"field": "x", "type": "quantitative", "scale": {"domain": [0, 2.732], "nice": false, "zero": false},
          "axis": {"values": [0, 1.155, 1.732, 2.732], "labelExpr": "datum.value < 0.5 ? 'Γ' : datum.value < 1.5 ? 'K' : datum.value < 2 ? 'M' : 'Γ'", "labelFlush": false, "labelFontSize": 24, "labelColor": "#222", "tickSize": -6, "tickWidth": 2, "tickColor": "#666", "grid": true, "gridColor": "#d6d6d6", "gridWidth": 1.5, "labelPadding": 24, "title": null}},
    "y": {"field": "e", "type": "quantitative", "scale": {"domain": [-1.38, 2.8], "nice": false, "zero": false},
          "axis": {"values": [-1.3, -1.2, -1.1, -1, -0.9, -0.8, -0.7, -0.6, -0.5, -0.4, -0.3, -0.2, -0.1, 0, 0.1, 0.2, 0.3, 0.4, 0.5, 0.6, 0.7, 0.8, 0.9, 1, 1.1, 1.2, 1.3, 1.4, 1.5, 1.6, 1.7, 1.8, 1.9, 2, 2.1, 2.2, 2.3, 2.4, 2.5, 2.6, 2.7], "tickCount": 100, "labels": false, "tickColor": "#666", "tickSize": 5, "tickWidth": 1.5, "title": null}},
    "detail": {"field": "b", "type": "nominal"}}},
  {"data": {"values": [{"e": 0}, {"e": -0.43}]}, "mark": {"type": "rule", "color": "#9a9ae8", "strokeDash": [2, 4], "strokeWidth": 1.8}, "encoding": {"y": {"field": "e", "type": "quantitative"}}},
  {"data": {"values": [{"x": 1.88, "y": 0.3, "y2": 0.1}, {"x": 1.88, "y": -0.74, "y2": -0.54}]}, "mark": {"type": "rule", "color": "black", "strokeWidth": 4}, "encoding": {"x": {"field": "x", "type": "quantitative"}, "y": {"field": "y", "type": "quantitative"}, "y2": {"field": "y2"}}},
  {"data": {"values": [{"x": 1.88, "y": 0.07}]}, "mark": {"type": "point", "shape": "triangle-down", "filled": true, "color": "black", "size": 100, "opacity": 1}, "encoding": {"x": {"field": "x", "type": "quantitative"}, "y": {"field": "y", "type": "quantitative"}}},
  {"data": {"values": [{"x": 1.88, "y": -0.5}]}, "mark": {"type": "point", "shape": "triangle-up", "filled": true, "color": "black", "size": 100, "opacity": 1}, "encoding": {"x": {"field": "x", "type": "quantitative"}, "y": {"field": "y", "type": "quantitative"}}},
  {"data": {"values": [{"x": 1.88, "y": -0.24, "t": "0.44"}]}, "mark": {"type": "text", "fontSize": 26, "color": "#333", "font": "Liberation Sans"}, "encoding": {"x": {"field": "x", "type": "quantitative"}, "y": {"field": "y", "type": "quantitative"}, "text": {"field": "t"}}},
  {"data": {"values": [{"x": 0.21, "y": 1.0, "t": "d"}]}, "mark": {"type": "text", "fontSize": 34, "font": "Liberation Serif", "fontWeight": "bold", "baseline": "alphabetic"}, "encoding": {"x": {"field": "x", "type": "quantitative"}, "y": {"field": "y", "type": "quantitative"}, "text": {"field": "t"}}}
 ]
}
],
"spacing": 27,
"bounds": "flush",
"resolve": {"scale": {"color": "independent", "shape": "independent", "size": "independent", "strokeWidth": "independent"}}
},
{
"hconcat": [
{
 "width": 333, "height": 272,
 "view": {"stroke": "black", "strokeWidth": 2.5},
 "resolve": {"scale": {"x": "independent", "y": "independent"}},
 "layer": [
  {"layer": [
   {"data": {"values": [{"n": 1, "i": 1.0}, {"n": 2, "i": 0.034}, {"n": 3, "i": 0.0166}, {"n": 4, "i": 0.0085}, {"n": 6.52, "i": 0.000275}]},
    "mark": {"type": "point", "shape": "square", "filled": true, "color": "black", "size": 150, "opacity": 1},
    "encoding": {
     "x": {"field": "n", "type": "quantitative", "scale": {"domain": [0, 7.24], "nice": false, "zero": false},
           "axis": {"values": [0, 1, 2, 3, 4, 5.8, 6.52], "labelExpr": "datum.value == 0 ? '0' : datum.value == 2 ? '2' : datum.value == 4 ? '4' : datum.value > 6 ? 'N>10' : ''", "labelFlush": false, "labelFontSize": 19, "labelFontWeight": "bold", "labelColor": "black", "tickSize": -6, "tickWidth": 2, "tickColor": "black", "labelPadding": 8, "title": "Layer Number", "titleFontSize": 20, "titleFontWeight": "bold", "titleColor": "black", "titlePadding": 4}},
     "y": {"field": "i", "type": "quantitative", "scale": {"type": "log", "domain": [0.0001, 10], "nice": false},
           "axis": {"values": [0.0001, 0.0002, 0.0003, 0.0004, 0.0005, 0.0006, 0.0007, 0.0008, 0.0009, 0.001, 0.002, 0.003, 0.004, 0.005, 0.006, 0.007, 0.008, 0.009, 0.01, 0.02, 0.03, 0.04, 0.05, 0.06, 0.07, 0.08, 0.09, 0.1, 0.2, 0.3, 0.4, 0.5, 0.6, 0.7, 0.8, 0.9, 1, 2, 3, 4, 5, 6, 7, 8, 9, 10], "tickCount": 100, "labelExpr": "datum.value == 1 ? '10⁰' : datum.value == 0.01 ? '10⁻²' : datum.value == 0.0001 ? '10⁻⁴' : ''", "labelFontSize": 18, "labelFontWeight": "bold", "labelColor": "black", "tickSize": -5, "tickWidth": 1.8, "tickColor": "black", "labelPadding": 14, "title": "Relative PL Intensity", "titleFontSize": 20, "titleFontWeight": "bold", "titleColor": "black", "titlePadding": 14}}}},
   {"data": {"values": [{"n": 5.09, "i": 10}, {"n": 5.09, "i": 0.0001}]}, "mark": {"type": "text", "text": "//", "fontSize": 24, "fontWeight": "bold"}, "encoding": {"x": {"field": "n", "type": "quantitative"}, "y": {"field": "i", "type": "quantitative"}}},
   {"data": {"values": [{"n": -1.59, "i": 4.7, "t": "e"}]}, "mark": {"type": "text", "fontSize": 36, "fontWeight": "bold", "font": "Liberation Serif"}, "encoding": {"x": {"field": "n", "type": "quantitative"}, "y": {"field": "i", "type": "quantitative"}, "text": {"field": "t"}}}
  ]},
  {"layer": [
   {"data": {"values": [{}]}, "mark": {"type": "rect", "fill": "white", "stroke": "black", "strokeWidth": 2.2},
    "encoding": {
     "x": {"datum": 1.0, "type": "quantitative", "scale": {"domain": [1.0, 2.58], "range": [180, 324], "nice": false, "zero": false},
           "axis": {"orient": "bottom", "offset": -157, "values": [1.2, 1.4, 1.6, 1.8, 2.0, 2.2, 2.4], "labelExpr": "(round(datum.value*10) % 4 == 0) ? format(datum.value, '.1f') : ''", "labelFlush": false, "labelFontSize": 14, "labelFontWeight": "bold", "labelColor": "#222", "tickSize": -4, "tickWidth": 1.5, "tickColor": "black", "labelPadding": 8, "title": "Photon Energy (eV)", "titleFontSize": 14, "titleFontWeight": "bold", "titleColor": "#222", "titlePadding": 1}},
     "x2": {"datum": 2.58},
     "y": {"datum": -0.53, "type": "quantitative", "scale": {"domain": [-0.53, 4.9], "range": [115, 12], "nice": false, "zero": false},
           "axis": {"orient": "left", "offset": -180, "values": [0, 1, 2, 3, 4], "labels": false, "tickSize": -5, "tickWidth": 1.5, "tickColor": "black", "title": null}},
     "y2": {"datum": 4.9}}},
   {"data": {"values": [
     {"s": "Monolayer", "x": 1.1, "y": 0}, {"s": "Monolayer", "x": 1.7, "y": 0.02}, {"s": "Monolayer", "x": 1.8, "y": 0.08}, {"s": "Monolayer", "x": 1.87, "y": 0.4}, {"s": "Monolayer", "x": 1.91, "y": 1.3}, {"s": "Monolayer", "x": 1.94, "y": 3.0}, {"s": "Monolayer", "x": 1.965, "y": 4.33}, {"s": "Monolayer", "x": 1.99, "y": 3.0}, {"s": "Monolayer", "x": 2.02, "y": 1.3}, {"s": "Monolayer", "x": 2.06, "y": 0.4}, {"s": "Monolayer", "x": 2.13, "y": 0.08}, {"s": "Monolayer", "x": 2.25, "y": 0.02}, {"s": "Monolayer", "x": 2.5, "y": 0},
     {"s": "Bilayer", "x": 1.1, "y": 0}, {"s": "Bilayer", "x": 1.75, "y": 0.02}, {"s": "Bilayer", "x": 1.85, "y": 0.12}, {"s": "Bilayer", "x": 1.92, "y": 0.22}, {"s": "Bilayer", "x": 1.99, "y": 0.1}, {"s": "Bilayer", "x": 2.1, "y": 0.02}, {"s": "Bilayer", "x": 2.55, "y": 0}]},
    "mark": {"type": "line", "interpolate": "monotone", "strokeWidth": 2.4},
    "encoding": {"x": {"field": "x", "type": "quantitative"}, "y": {"field": "y", "type": "quantitative"},
     "color": {"field": "s", "type": "nominal", "scale": {"domain": ["Monolayer", "Bilayer"], "range": ["#111111", "#ee2222"]}, "legend": null}}},
   {"data": {"values": [{"x": 1.51, "y": 3.4, "s": "Monolayer"}, {"x": 1.54, "y": 1.17, "s": "Bilayer"}]},
    "mark": {"type": "text", "fontSize": 14, "fontWeight": "bold"},
    "encoding": {"x": {"field": "x", "type": "quantitative"}, "y": {"field": "y", "type": "quantitative"}, "text": {"field": "s"},
     "color": {"field": "s", "type": "nominal", "scale": {"domain": ["Monolayer", "Bilayer"], "range": ["#111111", "#ee2222"]}, "legend": null}}}
  ]}
 ]
},
{
"hconcat": [
{
 "width": 335, "height": 272,
 "view": {"stroke": "black", "strokeWidth": 2.5},
 "layer": [
  {"data": {"values": [
    {"c":"1L","x":1.15,"y":1.0},{"c":"1L","x":1.4,"y":1.0},{"c":"1L","x":1.7,"y":1.0},{"c":"1L","x":1.8,"y":1.03},{"c":"1L","x":1.86,"y":1.25},{"c":"1L","x":1.9,"y":1.85},{"c":"1L","x":1.93,"y":2.65},{"c":"1L","x":1.951,"y":3.0},{"c":"1L","x":1.97,"y":2.75},{"c":"1L","x":2.0,"y":2.0},{"c":"1L","x":2.04,"y":1.4},{"c":"1L","x":2.1,"y":1.12},{"c":"1L","x":2.2,"y":1.03},{"c":"1L","x":2.3,"y":1.02},{"c":"1L","x":2.39,"y":1.0},
    {"c":"2L","x":1.15,"y":3.39},{"c":"2L","x":1.5,"y":3.39},{"c":"2L","x":1.6,"y":3.42},{"c":"2L","x":1.66,"y":3.62},{"c":"2L","x":1.72,"y":3.95},{"c":"2L","x":1.77,"y":4.08},{"c":"2L","x":1.81,"y":4.35},{"c":"2L","x":1.86,"y":4.95},{"c":"2L","x":1.913,"y":5.42},{"c":"2L","x":1.95,"y":5.2},{"c":"2L","x":1.99,"y":4.7},{"c":"2L","x":2.04,"y":4.05},{"c":"2L","x":2.1,"y":3.65},{"c":"2L","x":2.18,"y":3.47},{"c":"2L","x":2.27,"y":3.45},{"c":"2L","x":2.34,"y":3.52},{"c":"2L","x":2.39,"y":3.42},
    {"c":"3L","x":1.15,"y":5.8},{"c":"3L","x":1.3,"y":5.82},{"c":"3L","x":1.6,"y":5.83},{"c":"3L","x":1.72,"y":5.9},{"c":"3L","x":1.8,"y":6.2},{"c":"3L","x":1.87,"y":7.1},{"c":"3L","x":1.944,"y":7.8},{"c":"3L","x":1.98,"y":7.5},{"c":"3L","x":2.03,"y":6.7},{"c":"3L","x":2.08,"y":6.12},{"c":"3L","x":2.15,"y":5.88},{"c":"3L","x":2.25,"y":5.85},{"c":"3L","x":2.34,"y":6.05},{"c":"3L","x":2.39,"y":5.82},
    {"c":"4L","x":1.15,"y":8.19},{"c":"4L","x":1.19,"y":8.2},{"c":"4L","x":1.2,"y":8.33},{"c":"4L","x":1.21,"y":8.2},{"c":"4L","x":1.5,"y":8.2},{"c":"4L","x":1.7,"y":8.24},{"c":"4L","x":1.78,"y":8.45},{"c":"4L","x":1.85,"y":9.2},{"c":"4L","x":1.91,"y":9.95},{"c":"4L","x":1.957,"y":10.2},{"c":"4L","x":2.0,"y":9.85},{"c":"4L","x":2.05,"y":9.0},{"c":"4L","x":2.1,"y":8.45},{"c":"4L","x":2.18,"y":8.27},{"c":"4L","x":2.28,"y":8.3},{"c":"4L","x":2.33,"y":8.55},{"c":"4L","x":2.36,"y":8.62},{"c":"4L","x":2.39,"y":8.32},
    {"c":"Bulk","x":1.13,"y":10.3},{"c":"Bulk","x":1.14,"y":10.7},{"c":"Bulk","x":1.18,"y":10.72},{"c":"Bulk","x":1.195,"y":11.5},{"c":"Bulk","x":1.205,"y":11.66},{"c":"Bulk","x":1.215,"y":11.4},{"c":"Bulk","x":1.225,"y":10.72},{"c":"Bulk","x":1.3,"y":10.68},{"c":"Bulk","x":1.38,"y":10.7},{"c":"Bulk","x":1.42,"y":11.2},{"c":"Bulk","x":1.457,"y":11.66},{"c":"Bulk","x":1.5,"y":11.55},{"c":"Bulk","x":1.58,"y":11.1},{"c":"Bulk","x":1.66,"y":10.75},{"c":"Bulk","x":1.75,"y":10.72},{"c":"Bulk","x":1.82,"y":11.05},{"c":"Bulk","x":1.87,"y":11.8},{"c":"Bulk","x":1.921,"y":12.63},{"c":"Bulk","x":1.96,"y":12.2},{"c":"Bulk","x":2.0,"y":11.3},{"c":"Bulk","x":2.05,"y":10.75},{"c":"Bulk","x":2.12,"y":10.68},{"c":"Bulk","x":2.2,"y":10.85},{"c":"Bulk","x":2.26,"y":11.25},{"c":"Bulk","x":2.29,"y":11.65},{"c":"Bulk","x":2.306,"y":12.37}
   ]},
   "mark": {"type": "line", "interpolate": "monotone", "strokeWidth": 3},
   "encoding": {
    "x": {"field": "x", "type": "quantitative", "scale": {"domain": [1.0, 2.5], "nice": false, "zero": false},
          "axis": {"values": [1.2, 1.4, 1.6, 1.8, 2.0, 2.2, 2.4], "labelExpr": "(round(datum.value*10) % 4 == 0) ? format(datum.value, '.1f') : ''", "labelFlush": false, "labelFontSize": 19, "labelFontWeight": "bold", "labelColor": "black", "tickSize": -6, "tickWidth": 2, "tickColor": "black", "labelPadding": 9, "title": "Photon Energy (eV)", "titleFontSize": 20, "titleFontWeight": "bold", "titleColor": "black", "titlePadding": 2}},
    "y": {"field": "y", "type": "quantitative", "scale": {"domain": [0, 13.85], "nice": false, "zero": false},
          "axis": {"values": [1, 2, 3, 4, 5, 6, 7, 8, 9, 10, 11, 12, 13], "tickCount": 100, "labels": false, "tickSize": -8, "tickWidth": 2, "tickColor": "black", "title": "Normalized PL", "titleFontSize": 20, "titleFontWeight": "bold", "titleColor": "black", "titlePadding": 12}},
    "color": {"field": "c", "type": "nominal", "scale": {"domain": ["Bulk", "4L", "3L", "2L", "1L", "3Lg"], "range": ["#b363c4", "#ee2424", "#111111", "#1a8c8c", "#3b4cb4", "#777777"]}, "legend": null}}},
  {"data": {"values": [
    {"c":"4L","x":1.37,"y":8.2},{"c":"4L","x":1.39,"y":8.25},{"c":"4L","x":1.43,"y":8.6},{"c":"4L","x":1.46,"y":8.9},{"c":"4L","x":1.52,"y":8.92},{"c":"4L","x":1.58,"y":8.75},{"c":"4L","x":1.62,"y":8.73},{"c":"4L","x":1.66,"y":8.85},{"c":"4L","x":1.69,"y":9.2},{"c":"4L","x":1.705,"y":9.75},
    {"c":"3Lg","x":1.43,"y":5.78},{"c":"3Lg","x":1.47,"y":6.1},{"c":"3Lg","x":1.52,"y":6.6},{"c":"3Lg","x":1.56,"y":7.1},{"c":"3Lg","x":1.6,"y":7.1},{"c":"3Lg","x":1.65,"y":6.98},{"c":"3Lg","x":1.69,"y":7.2},{"c":"3Lg","x":1.74,"y":7.5},
    {"c":"3L","x":2.2,"y":5.85},{"c":"3L","x":2.25,"y":6.1},{"c":"3L","x":2.29,"y":6.44},{"c":"3L","x":2.346,"y":6.78},{"c":"3L","x":2.384,"y":6.36},{"c":"3L","x":2.398,"y":5.7},
    {"c":"2L","x":2.2,"y":3.4},{"c":"2L","x":2.26,"y":3.6},{"c":"2L","x":2.3,"y":3.85},{"c":"2L","x":2.34,"y":4.07},{"c":"2L","x":2.37,"y":3.95},{"c":"2L","x":2.395,"y":3.5},
    {"c":"1L","x":2.21,"y":1.0},{"c":"1L","x":2.27,"y":1.15},{"c":"1L","x":2.33,"y":1.25},{"c":"1L","x":2.38,"y":1.18},{"c":"1L","x":2.397,"y":1.05}
   ]},
   "mark": {"type": "line", "interpolate": "monotone", "strokeWidth": 2, "strokeDash": [3, 2]},
   "encoding": {"x": {"field": "x", "type": "quantitative"}, "y": {"field": "y", "type": "quantitative"},
    "color": {"field": "c", "type": "nominal", "scale": {"domain": ["Bulk", "4L", "3L", "2L", "1L", "3Lg"], "range": ["#b363c4", "#ee2424", "#111111", "#1a8c8c", "#3b4cb4", "#777777"]}, "legend": null}}},
  {"data": {"values": [
    {"x": 1.302, "x2": 1.707, "y": 7.88, "y2": 9.92},
    {"x": 1.339, "x2": 1.746, "y": 5.56, "y2": 7.59},
    {"x": 2.17, "x2": 2.403, "y": 5.56, "y2": 7.93},
    {"x": 2.17, "x2": 2.403, "y": 2.97, "y2": 5.25},
    {"x": 2.205, "x2": 2.399, "y": 0.54, "y2": 2.17}]},
   "mark": {"type": "rect", "fillOpacity": 0, "stroke": "#222", "strokeWidth": 1.6},
   "encoding": {"x": {"field": "x", "type": "quantitative"}, "x2": {"field": "x2"}, "y": {"field": "y", "type": "quantitative"}, "y2": {"field": "y2"}}},
  {"data": {"values": [
    {"x": 1.376, "y": 9.24, "t": "10X"}, {"x": 1.406, "y": 6.69, "t": "10X"}, {"x": 2.249, "y": 7.12, "t": "5X"}, {"x": 2.242, "y": 4.58, "t": "5X"}, {"x": 2.249, "y": 1.61, "t": "100X"}]},
   "mark": {"type": "text", "fontSize": 11, "fontWeight": "bold", "color": "#222"},
   "encoding": {"x": {"field": "x", "type": "quantitative"}, "y": {"field": "y", "type": "quantitative"}, "text": {"field": "t"}}},
  {"data": {"values": [
    {"x": 1.46, "y": 12.55, "y2": 12.0}, {"x": 1.735, "y": 4.9, "y2": 4.35}, {"x": 2.351, "y": 9.6, "y2": 9.05}]},
   "mark": {"type": "rule", "color": "black", "strokeWidth": 2.2},
   "encoding": {"x": {"field": "x", "type": "quantitative"}, "y": {"field": "y", "type": "quantitative"}, "y2": {"field": "y2"}}},
  {"data": {"values": [
    {"x": 1.481, "y": 9.58, "y2": 9.2}, {"x": 1.567, "y": 7.55, "y2": 7.25}, {"x": 2.351, "y": 7.63, "y2": 7.15}, {"x": 2.339, "y": 5.0, "y2": 4.45}, {"x": 2.332, "y": 1.95, "y2": 1.65}]},
   "mark": {"type": "rule", "color": "black", "strokeWidth": 1.4},
   "encoding": {"x": {"field": "x", "type": "quantitative"}, "y": {"field": "y", "type": "quantitative"}, "y2": {"field": "y2"}}},
  {"data": {"values": [{"x": 1.46, "y": 11.9}, {"x": 1.735, "y": 4.25}, {"x": 2.351, "y": 8.95}]},
   "mark": {"type": "point", "shape": "triangle-down", "filled": true, "color": "black", "opacity": 1, "size": 55},
   "encoding": {"x": {"field": "x", "type": "quantitative"}, "y": {"field": "y", "type": "quantitative"}}},
  {"data": {"values": [{"x": 1.481, "y": 9.12}, {"x": 1.567, "y": 7.18}, {"x": 2.351, "y": 7.07}, {"x": 2.339, "y": 4.37}, {"x": 2.332, "y": 1.58}]},
   "mark": {"type": "point", "shape": "triangle-down", "filled": true, "color": "black", "opacity": 1, "size": 22},
   "encoding": {"x": {"field": "x", "type": "quantitative"}, "y": {"field": "y", "type": "quantitative"}}},
  {"data": {"values": [
    {"x": 1.085, "y": 12.25, "t": "Bulk"}, {"x": 1.1, "y": 9.02, "t": "4L"}, {"x": 1.1, "y": 6.58, "t": "3L"}, {"x": 1.1, "y": 4.07, "t": "2L"}, {"x": 1.1, "y": 1.69, "t": "1L"}]},
   "mark": {"type": "text", "align": "left", "fontSize": 20, "fontWeight": "bold", "font": "Liberation Serif", "color": "#222"},
   "encoding": {"x": {"field": "x", "type": "quantitative"}, "y": {"field": "y", "type": "quantitative"}, "text": {"field": "t"}}},
  {"data": {"values": [{"x": 1.929, "y": 13.14, "t": "A"}, {"x": 2.346, "y": 13.14, "t": "B"}, {"x": 1.463, "y": 12.97, "t": "I"}]},
   "mark": {"type": "text", "fontSize": 19, "fontWeight": "bold", "color": "#222"},
   "encoding": {"x": {"field": "x", "type": "quantitative"}, "y": {"field": "y", "type": "quantitative"}, "text": {"field": "t"}}},
  {"data": {"values": [{"x": 0.879, "y": 13.03, "t": "f"}]},
   "mark": {"type": "text", "fontSize": 36, "fontWeight": "bold", "font": "Liberation Serif"},
   "encoding": {"x": {"field": "x", "type": "quantitative"}, "y": {"field": "y", "type": "quantitative"}, "text": {"field": "t"}}}
 ]
},
{
 "width": 332, "height": 272,
 "view": {"stroke": "black", "strokeWidth": 2.5},
 "layer": [
  {"data": {"values": [{"x": 0.75, "x2": 7.22, "v": 2.346}, {"x": 0.75, "x2": 7.22, "v": 1.939}]},
   "mark": {"type": "rule", "color": "black", "strokeWidth": 2.2, "strokeDash": [12, 9]},
   "encoding": {
    "x": {"field": "x", "type": "quantitative", "scale": {"domain": [0, 8], "nice": false, "zero": false},
          "axis": {"values": [0, 1, 2, 3, 4, 5, 7.12], "labelExpr": "datum.value == 0 ? '0' : datum.value == 2 ? '2' : datum.value == 4 ? '4' : datum.value > 7 ? 'N>10' : ''", "labelFlush": false, "labelFontSize": 19, "labelFontWeight": "bold", "labelColor": "black", "tickSize": -6, "tickWidth": 2, "tickColor": "black", "labelPadding": 10, "title": "Layer Number", "titleFontSize": 20, "titleFontWeight": "bold", "titleColor": "black", "titlePadding": 0}},
    "x2": {"field": "x2"},
    "y": {"field": "v", "type": "quantitative", "scale": {"domain": [1.35, 2.45], "nice": false, "zero": false},
          "axis": {"values": [1.5, 1.65, 1.8, 1.95, 2.1, 2.25, 2.4], "labelExpr": "(round(datum.value*100) % 30 == 0) ? format(datum.value, '.1f') : ''", "labelFontSize": 19, "labelFontWeight": "bold", "labelColor": "black", "tickSize": -6, "tickWidth": 2, "tickColor": "black", "labelPadding": 18, "title": "Peak Energy (eV)", "titleFontSize": 20, "titleFontWeight": "bold", "titleColor": "black", "titlePadding": 6}}}},
  {"data": {"values": [{"n": 1.67, "v": 2.29, "v2": 1.99}]},
   "mark": {"type": "rule", "color": "black", "strokeWidth": 2.5},
   "encoding": {"x": {"field": "n", "type": "quantitative"}, "y": {"field": "v", "type": "quantitative"}, "y2": {"field": "v2"}}},
  {"data": {"values": [{"n": 1.67, "v": 2.305}]},
   "mark": {"type": "point", "shape": "triangle-up", "filled": true, "color": "black", "size": 80, "opacity": 1},
   "encoding": {"x": {"field": "n", "type": "quantitative"}, "y": {"field": "v", "type": "quantitative"}}},
  {"data": {"values": [{"n": 1.67, "v": 1.977}]},
   "mark": {"type": "point", "shape": "triangle-down", "filled": true, "color": "black", "size": 80, "opacity": 1},
   "encoding": {"x": {"field": "n", "type": "quantitative"}, "y": {"field": "v", "type": "quantitative"}}},
  {"data": {"values": [
    {"s": 1, "n": 1, "v": 1.96}, {"s": 1, "n": 1.5, "v": 1.83}, {"s": 1, "n": 2, "v": 1.72}, {"s": 1, "n": 2.5, "v": 1.64}, {"s": 1, "n": 3, "v": 1.585}, {"s": 1, "n": 3.5, "v": 1.545}, {"s": 1, "n": 4, "v": 1.515}, {"s": 1, "n": 4.5, "v": 1.495}, {"s": 1, "n": 5, "v": 1.48}, {"s": 1, "n": 5.5, "v": 1.47}, {"s": 1, "n": 5.96, "v": 1.465},
    {"s": 2, "n": 6.33, "v": 1.44}, {"s": 2, "n": 7.0, "v": 1.44}]},
   "mark": {"type": "line", "color": "black", "strokeWidth": 2, "interpolate": "monotone"},
   "encoding": {"x": {"field": "n", "type": "quantitative"}, "y": {"field": "v", "type": "quantitative"}, "detail": {"field": "s", "type": "nominal"}}},
  {"data": {"values": [{"n": 1, "v": 2.328}, {"n": 2, "v": 2.343}, {"n": 3, "v": 2.35}, {"n": 4, "v": 2.355}, {"n": 7.12, "v": 2.35}]},
   "mark": {"type": "point", "shape": "triangle-up", "filled": true, "color": "#3cb44b", "size": 220, "opacity": 1},
   "encoding": {"x": {"field": "n", "type": "quantitative"}, "y": {"field": "v", "type": "quantitative"}}},
  {"data": {"values": [{"n": 1, "v": 1.941}, {"n": 2, "v": 1.907}, {"n": 3, "v": 1.935}, {"n": 4, "v": 1.945}, {"n": 7.12, "v": 1.915}]},
   "mark": {"type": "point", "shape": "circle", "filled": true, "color": "#ee2c24", "size": 160, "opacity": 1},
   "encoding": {"x": {"field": "n", "type": "quantitative"}, "y": {"field": "v", "type": "quantitative"}}},
  {"data": {"values": [{"n": 2, "v": 1.758}, {"n": 3, "v": 1.589}, {"n": 4, "v": 1.49}, {"n": 7.12, "v": 1.456}]},
   "mark": {"type": "point", "shape": "square", "filled": true, "color": "#000000", "size": 150, "opacity": 1},
   "encoding": {"x": {"field": "n", "type": "quantitative"}, "y": {"field": "v", "type": "quantitative"}}},
  {"data": {"values": [{"n": 1.92, "v": 2.123, "t": "~400meV"}, {"n": 4.95, "v": 2.262, "t": "Peak A"}, {"n": 4.95, "v": 1.853, "t": "Peak B"}, {"n": 5.03, "v": 1.544, "t": "Peak I"}]},
   "mark": {"type": "text", "align": "left", "fontSize": 19, "fontWeight": "bold", "color": "#222"},
   "encoding": {"x": {"field": "n", "type": "quantitative"}, "y": {"field": "v", "type": "quantitative"}, "text": {"field": "t"}}},
  {"data": {"values": [{"n": 6.08, "v": 2.45}, {"n": 6.08, "v": 1.35}]},
   "mark": {"type": "text", "text": "//", "fontSize": 24, "fontWeight": "bold"},
   "encoding": {"x": {"field": "n", "type": "quantitative"}, "y": {"field": "v", "type": "quantitative"}}},
  {"data": {"values": [{"n": -1.4, "v": 2.385, "t": "g"}]},
   "mark": {"type": "text", "fontSize": 36, "fontWeight": "bold", "font": "Liberation Serif"},
   "encoding": {"x": {"field": "n", "type": "quantitative"}, "y": {"field": "v", "type": "quantitative"}, "text": {"field": "t"}}}
 ]
}
],
"spacing": 85,
"bounds": "flush",
"resolve": {"scale": {"color": "independent", "shape": "independent", "size": "independent", "strokeWidth": "independent"}}
}
],
"spacing": 58,
"bounds": "flush",
"resolve": {"scale": {"color": "independent", "shape": "independent", "size": "independent", "strokeWidth": "independent"}}
}
]
}
